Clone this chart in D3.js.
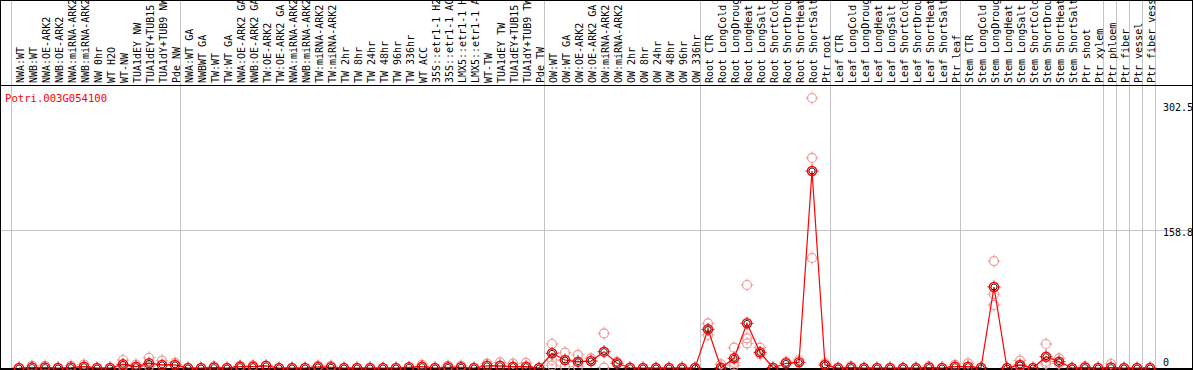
<!DOCTYPE html>
<html><head><meta charset="utf-8">
<script src="https://cdn.jsdelivr.net/npm/d3@7"></script>
<style>html,body{margin:0;padding:0;background:#fff;overflow:hidden}</style>
</head><body>
<svg id="chart" width="1194" height="370"></svg>
<script>
const geneTitle = "Potri.003G054100";
const sampleLabels = [
 "NWA:WT","NWB:WT","NWA:OE-ARK2","NWB:OE-ARK2","NWA:miRNA-ARK2","NWB:miRNA-ARK2","NW 0hr","WT H2O","WT-NW","TUA1dEY NW","TUA1dEY+TUB15 NW","TUA1dY+TUB9 NW","Pde NW",
 "NWA:WT GA","NWBWT GA","TW:WT","TW:WT GA","NWA:OE-ARK2 GA","NWB:OE-ARK2 GA","TW:OE-ARK2","TW:OE-ARK2 GA","NWA:miRNA-ARK2 GA","NWB:miRNA-ARK2 GA","TW:miRNA-ARK2","TW:miRNA-ARK2",
 "TW 2hr","TW 8hr","TW 24hr","TW 48hr","TW 96hr","TW 336hr","WT ACC","35S::etr1-1 H2O","35S::etr1-1 ACC","LMX5::etr1-1 H2O","LMX5::etr1-1 ACC","WT-TW","TUA1dEY TW","TUA1dEY+TUB15 TW","TUA1dY+TUB9 TW","Pde TW",
 "OW:WT","OW:WT GA","OW:OE-ARK2","OW:OE-ARK2 GA","OW:miRNA-ARK2","OW:miRNA-ARK2","OW 2hr","OW 8hr","OW 24hr","OW 48hr","OW 96hr","OW 336hr",
 "Root CTR","Root LongCold","Root LongDrought","Root LongHeat","Root LongSalt","Root ShortCold","Root ShortDrought","Root ShortHeat","Root ShortSalt","Ptr root",
 "Leaf CTR","Leaf LongCold","Leaf LongDrought","Leaf LongHeat","Leaf LongSalt","Leaf ShortCold","Leaf ShortDrought","Leaf ShortHeat","Leaf ShortSalt","Ptr leaf",
 "Stem CTR","Stem LongCold","Stem LongDrought","Stem LongHeat","Stem LongSalt","Stem ShortCold","Stem ShortDrought","Stem ShortHeat","Stem ShortSalt","Ptr shoot","Ptr xylem",
 "Ptr phloem","Ptr fiber","Ptr vessel","Ptr fiber vessel"
];
// index of first sample of each group (last entry = end)
const groupStarts = [0, 13, 41, 53, 63, 73, 84, 85, 86, 87, 88];
const meanValues = [
 0,0.5,0.5,0,0.5,1.5,0,0,4.2,1.5,5.4,3.5,3.5,
 0,0,0.5,0,1.5,1.5,2.5,0,0,0,1.2,0.8,0,0,0,0,0,0.8,1.5,0,0.8,0.8,0,2.5,2.5,1.5,1.5,0,
 16.9,9.2,7.3,8,18.8,5.4,0.3,0,0,0,0,0,
 44.5,0.3,11.1,51.4,18,0.3,5.4,6.5,226.7,3.5,
 0,0.5,0,0,0,0,0,0.5,0,1.5,
 1.5,0.3,93.2,0,3.5,0,13,7.3,0,0.5,0,
 0.5,0,0,0
];
// replicate values per sample (only those visible apart from the mean)
const replicateValues = [
 [],[2.5],[2.5],[],[2.5],[4],[],[],[9.2,2],[4],[11.8,2],[8.4],[6],
 [],[],[2],[],[2.5],[3],[],[],[],[],[2.5],[2.5],[],[],[],[],[],[],[3.5],[],[2.5],[2.5],[],[5],[6.5],[5],[5.8],[],
 [27.6,9.2,3],[17.6,1.5],[15,1.5],[11.1],[39.9,0.5],[7],[],[],[],[],[],[],
 [51.4,38,44],[4.2],[23.4,6,3],[95.5,34.1,28.4],[23.4,16],[],[7],[9.2],[310.7,241.7,126.6],[5.4],
 [],[2],[],[],[],[],[],[2],[],[3.5],
 [5.4],[],[123,72.5,85],[],[8.4,2],[],[27.6,7.3,5],[11.1,5],[],[2],[],
 [4.6],[],[],[]
];
const yTicks = [0, 158.8, 302.5];

const W = 1194, H = 370;
const svg = d3.select("#chart");
const x = d3.scaleLinear().domain([0, 88]).range([19, 19 + 13 * 88]);
const y = d3.scaleLinear().domain([0, 158.8]).range([368, 230]);
const font = "'DejaVu Sans Mono', monospace";

// group gridlines
svg.append("g").selectAll("line").data(groupStarts).join("line")
  .attr("x1", d => Math.round(x(d) - 8) + 0.5).attr("x2", d => Math.round(x(d) - 8) + 0.5)
  .attr("y1", 0).attr("y2", 369).attr("stroke", "#c4c4c4").attr("stroke-width", 1);

// horizontal gridline at middle tick
svg.append("line").attr("x1", 0).attr("x2", 1192)
  .attr("y1", Math.round(y(yTicks[1])) + 0.5).attr("y2", Math.round(y(yTicks[1])) + 0.5)
  .attr("stroke", "#c4c4c4");

// border & separator
svg.append("line").attr("x1", 0).attr("x2", 1193).attr("y1", 85.5).attr("y2", 85.5).attr("stroke", "#000");
svg.append("line").attr("x1", 0.5).attr("x2", 0.5).attr("y1", 0).attr("y2", 370).attr("stroke", "#000");
svg.append("line").attr("x1", 1192.5).attr("x2", 1192.5).attr("y1", 0).attr("y2", 370).attr("stroke", "#000");
svg.append("line").attr("x1", 0).attr("x2", 1193).attr("y1", 0.5).attr("y2", 0.5).attr("stroke", "#000");
svg.append("line").attr("x1", 0).attr("x2", 1193).attr("y1", 369).attr("y2", 369).attr("stroke", "#000").attr("stroke-width", 2);

// sample labels
svg.append("g").selectAll("text").data(sampleLabels).join("text")
  .attr("transform", (d, i) => `translate(${x(i) + 4.5},83) rotate(-90)`)
  .attr("font-family", font).attr("font-size", 10).attr("fill", "#000")
  .text(d => d);

// y tick labels
svg.append("g").selectAll("text").data(yTicks).join("text")
  .attr("x", 1163).attr("y", d => Math.min(y(d) + 6, 366))
  .attr("font-family", font).attr("font-size", 10).attr("fill", "#000")
  .text(d => d);

// title
svg.append("text").attr("x", 5).attr("y", 102).attr("font-family", font).attr("font-size", 10.6)
  .attr("fill", "#ff0000").text(geneTitle);

function marker(g, r, color, sw) {
  g.append("circle").attr("r", r).attr("fill", "none").attr("stroke", color).attr("stroke-width", sw);
  g.append("path").attr("d", `M0,${-r-2}V${-r+1}M0,${r-1}V${r+2}M${-r-2},0H${-r+1}M${r-1},0H${r+2}`)
    .attr("stroke", color).attr("stroke-width", 1);
}

// replicates
const reps = [];
replicateValues.forEach((arr, i) => arr.forEach(v => reps.push({i, v})));
const rg = svg.append("g").selectAll("g").data(reps).join("g")
  .attr("transform", d => `translate(${x(d.i)},${y(d.v)})`);
rg.each(function() { marker(d3.select(this), 4.5, "#f09a9a", 1.2); });

// mean line
svg.append("path").datum(meanValues)
  .attr("d", d3.line().x((d, i) => x(i)).y(d => y(d)))
  .attr("fill", "none").attr("stroke", "#ff0000").attr("stroke-width", 1.2);

// mean points
const mg = svg.append("g").selectAll("g").data(meanValues).join("g")
  .attr("transform", (d, i) => `translate(${x(i)},${y(d)})`);
mg.each(function() {
  const g = d3.select(this);
  marker(g, 4.5, "#ff0000", 1.5);
  g.append("circle").attr("r", 3).attr("fill", "none").attr("stroke", "#000").attr("stroke-width", 0.8);
});
</script>
</body></html>
